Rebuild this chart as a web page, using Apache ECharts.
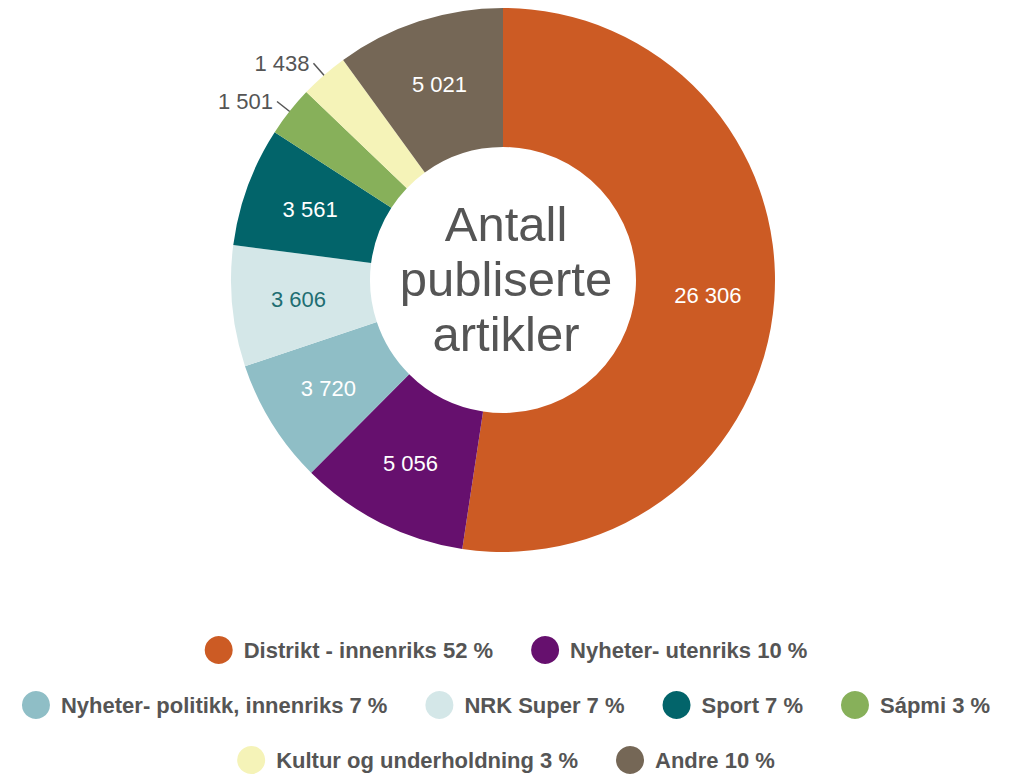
<!DOCTYPE html>
<html lang="no">
<head>
<meta charset="utf-8">
<title>Antall publiserte artikler</title>
<script src="https://cdn.jsdelivr.net/npm/echarts@6/dist/echarts.min.js"></script>
<style>
  html, body { margin: 0; padding: 0; background: #fff; }
  #chart { width: 1012px; height: 779px; }
</style>
</head>
<body>
<div id="chart"></div>
<script>
// data
var categories = ['Distrikt - innenriks', 'Nyheter- utenriks', 'Nyheter- politikk, innenriks',
  'NRK Super', 'Sport', 'Sápmi', 'Kultur og underholdning', 'Andre'];
var values = [26306, 5056, 3720, 3606, 3561, 1501, 1438, 5021];
var colors = ['#CC5B24', '#66106E', '#8FBEC6', '#D4E7E8', '#02646A', '#87B05A', '#F5F3B8', '#756756'];
var labelColors = ['#fff', '#fff', '#fff', '#1E6E72', '#fff', '#555', '#555', '#fff'];
var outside = [false, false, false, false, false, true, true, false];
var legendRows = [[0, 1], [2, 3, 4, 5], [6, 7]];

var total = values.reduce(function (a, b) { return a + b; }, 0);
function fmt(v) { return String(v).replace(/\B(?=(\d{3})+(?!\d))/g, ' '); }
function pct(i) { return Math.round(values[i] / total * 100); }

var FONT = '"Liberation Sans", Arial, Helvetica, sans-serif';

var chart = echarts.init(document.getElementById('chart'), null, { renderer: 'svg' });

var seriesData = categories.map(function (name, i) {
  var item = {
    name: name,
    value: values[i],
    itemStyle: { color: colors[i] },
    label: { color: labelColors[i] }
  };
  if (outside[i]) {
    item.label.position = 'outside';
    item.label.distanceToLabelLine = 4;
    item.labelLine = { show: true, length: 16, length2: 0, lineStyle: { color: '#555', width: 1.5 } };
  }
  return item;
});

var legendTops = [631, 686, 741];
var legends = legendRows.map(function (row, r) {
  return {
    top: legendTops[r],
    left: 'center',
    orient: 'horizontal',
    icon: 'circle',
    itemWidth: 28,
    itemHeight: 28,
    itemGap: 38,
    data: row.map(function (i) { return categories[i]; }),
    formatter: function (name) {
      var i = categories.indexOf(name);
      return name + ' ' + pct(i) + ' %';
    },
    textStyle: { fontFamily: FONT, fontSize: 22, fontWeight: 'bold', color: '#555', padding: [0, 0, 0, 6] }
  };
});

var option = {
  animation: false,
  legend: legends,
  graphic: [{
    type: 'text',
    left: 'center',
    top: 196,
    style: {
      text: 'Antall\npubliserte\nartikler',
      font: '49px ' + FONT,
      fill: '#555',
      textAlign: 'center',
      lineHeight: 55
    }
  }],
  series: [{
    name: 'Antall publiserte artikler',
    type: 'pie',
    center: [503, 280],
    radius: [133, 272],
    startAngle: 90,
    clockwise: true,
    avoidLabelOverlap: false,
    label: {
      show: true,
      position: 'inside',
      fontFamily: FONT,
      fontSize: 22,
      formatter: function (p) { return fmt(p.value); }
    },
    labelLine: { show: false },
    // leader lines start a bit inside the slice, like the original
    labelLayout: function (params) {
      var pts = params.labelLinePoints;
      if (!pts || !outside[params.dataIndex]) return {};
      var dx = pts[1][0] - pts[0][0], dy = pts[1][1] - pts[0][1];
      var len = Math.sqrt(dx * dx + dy * dy) || 1;
      var start = [pts[0][0] - dx / len * 24, pts[0][1] - dy / len * 24];
      return { labelLinePoints: [start, pts[1], pts[2]] };
    },
    emphasis: { disabled: true },
    data: seriesData
  }]
};

chart.setOption(option);
</script>
</body>
</html>
